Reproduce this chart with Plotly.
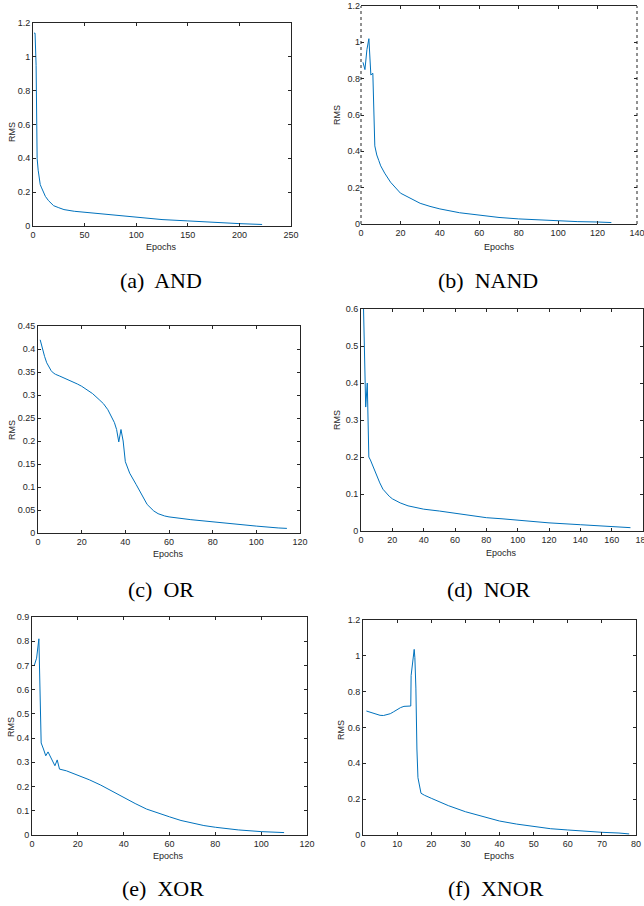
import plotly.graph_objects as go

# ---------------- data ----------------
and_epochs = [1, 2, 3, 4, 5, 6, 7, 8, 10, 12, 15, 18, 20, 25, 30, 40, 50, 60, 75, 100, 125, 150, 175, 200, 222]
and_rms = [1.14, 1.14, 0.95, 0.40, 0.33, 0.27, 0.245, 0.23, 0.20, 0.175, 0.15, 0.13, 0.12, 0.108, 0.097, 0.087,
           0.081, 0.074, 0.064, 0.050, 0.038, 0.030, 0.020, 0.014, 0.009]

nand_epochs = [1, 2, 3, 4, 5, 6, 7, 8, 9, 10, 12, 15, 20, 25, 30, 35, 40, 50, 60, 70, 80, 90, 100, 110, 120, 127]
nand_rms = [0.89, 0.85, 0.96, 1.02, 0.82, 0.83, 0.43, 0.38, 0.35, 0.32, 0.28, 0.23, 0.17, 0.14, 0.114, 0.097,
            0.083, 0.062, 0.048, 0.036, 0.028, 0.022, 0.018, 0.013, 0.011, 0.008]

or_epochs = [1, 2, 3, 4, 5, 6, 7, 8, 10, 12, 15, 18, 20, 22, 25, 28, 30, 32, 34, 35, 36, 37, 38, 39, 40, 41, 42,
             45, 48, 50, 53, 55, 58, 60, 70, 80, 90, 100, 110, 114]
or_rms = [0.42, 0.40, 0.384, 0.37, 0.36, 0.353, 0.348, 0.345, 0.341, 0.337, 0.331, 0.324, 0.319, 0.313, 0.303,
          0.29, 0.281, 0.268, 0.25, 0.24, 0.225, 0.198, 0.225, 0.20, 0.155, 0.14, 0.13, 0.105, 0.078, 0.062,
          0.048, 0.042, 0.037, 0.035, 0.029, 0.024, 0.0195, 0.015, 0.011, 0.010]

nor_epochs = [1, 2, 3, 4, 5, 6, 8, 10, 12, 14, 16, 18, 20, 25, 30, 40, 50, 60, 70, 80, 90, 100, 120, 140, 160, 172]
nor_rms = [0.72, 0.50, 0.335, 0.40, 0.20, 0.192, 0.17, 0.15, 0.13, 0.113, 0.103, 0.094, 0.087, 0.076, 0.068,
           0.059, 0.054, 0.048, 0.042, 0.036, 0.033, 0.029, 0.022, 0.017, 0.0125, 0.009]

xor_epochs = [1, 2, 3, 4, 5, 6, 7, 8, 9, 10, 11, 12, 15, 20, 25, 30, 35, 40, 45, 50, 55, 60, 65, 70, 75, 80, 90,
              100, 110]
xor_rms = [0.70, 0.73, 0.81, 0.38, 0.355, 0.327, 0.343, 0.323, 0.31, 0.286, 0.31, 0.272, 0.265, 0.247, 0.228,
           0.206, 0.18, 0.154, 0.13, 0.107, 0.09, 0.075, 0.06, 0.048, 0.039, 0.032, 0.021, 0.014, 0.010]

xnor_epochs = [1, 2, 3, 4, 5, 6, 7, 8, 9, 10, 11, 12, 13, 14, 14.1, 14.6, 15, 15.2, 15.5, 15.8, 16.1, 17, 18, 20,
               25, 30, 35, 40, 45, 50, 55, 60, 65, 70, 75, 78]
xnor_rms = [0.692, 0.686, 0.679, 0.673, 0.668, 0.667, 0.670, 0.677, 0.688, 0.700, 0.711, 0.718, 0.720, 0.720,
            0.89, 0.98, 1.036, 0.99, 0.82, 0.48, 0.32, 0.233, 0.222, 0.205, 0.164, 0.130, 0.102, 0.078, 0.061,
            0.047, 0.035, 0.028, 0.020, 0.015, 0.011, 0.006]

captions = ["(a)  AND", "(b)  NAND", "(c)  OR", "(d)  NOR", "(e)  XOR", "(f)  XNOR"]
x_label = "Epochs"
y_label = "RMS"

x_ranges = [[0, 250], [0, 140], [0, 120], [0, 180], [0, 120], [0, 80]]
x_dticks = [50, 20, 20, 20, 20, 10]
y_ranges = [[0, 1.2], [0, 1.2], [0, 0.45], [0, 0.6], [0, 0.9], [0, 1.2]]
y_dticks = [0.2, 0.2, 0.05, 0.1, 0.1, 0.2]

series = [(and_epochs, and_rms), (nand_epochs, nand_rms), (or_epochs, or_rms),
          (nor_epochs, nor_rms), (xor_epochs, xor_rms), (xnor_epochs, xnor_rms)]

# ---------------- layout (pixel boxes) ----------------
W, H = 644, 906
boxes = [(33, 291, 23, 226), (361, 637, 6, 224), (38, 300, 326, 533),
         (361, 643, 309, 531), (32, 307, 617, 835), (363, 636, 620, 835)]
xtitle_pos = [(161, 247), (499, 247), (168, 554), (501, 553), (168, 856), (499, 856)]
ytitle_pos = [(12, 132), (337, 115), (12, 430), (337, 420), (11, 727), (341, 730)]
caption_pos = [(161, 280), (488, 280), (161, 589), (488, 589), (163, 888), (496, 888)]

LINE = "#0072bd"
AXC = "#262626"
tickfont = dict(family="Liberation Sans, Arial, sans-serif", size=9, color=AXC)

fig = go.Figure()
layout = dict(width=W, height=H, margin=dict(l=0, r=0, t=0, b=0, pad=0, autoexpand=False),
              paper_bgcolor="white", plot_bgcolor="white", showlegend=False)
annotations = []
shapes = []

for i, ((xs, ys), (l, r, t, b)) in enumerate(zip(series, boxes)):
    n = i + 1
    xa = "x" if n == 1 else f"x{n}"
    ya = "y" if n == 1 else f"y{n}"
    fig.add_trace(go.Scatter(x=xs, y=ys, mode="lines", line=dict(color=LINE, width=1),
                             xaxis=xa, yaxis=ya, hoverinfo="skip", cliponaxis=True))
    dotted = (n == 2)
    common = dict(showgrid=False, zeroline=False, ticks="inside", ticklen=3, tickwidth=0.8,
                  tickcolor=AXC, linecolor=AXC, linewidth=0.8, ticklabeloverflow="allow",
                  mirror="ticks", tickfont=tickfont, fixedrange=True, automargin=False)
    layout[f"xaxis{'' if n == 1 else n}"] = dict(
        domain=[l / W, r / W], anchor=ya, range=x_ranges[i], tick0=0, dtick=x_dticks[i],
        showline=True, **common)
    layout[f"yaxis{'' if n == 1 else n}"] = dict(
        domain=[1 - b / H, 1 - t / H], anchor=xa, range=y_ranges[i], tick0=0, dtick=y_dticks[i],
        showline=not dotted, **common)
    if dotted:
        for xv in (0, 1):
            shapes.append(dict(type="line", xref=f"{xa} domain", yref=f"{ya} domain", x0=xv, x1=xv,
                               y0=0, y1=1, line=dict(color="#222222", width=1, dash="dot"),
                               layer="above"))
    px, py = xtitle_pos[i]
    annotations.append(dict(text=x_label, x=px / W, y=1 - py / H, xref="paper", yref="paper",
                            showarrow=False, xanchor="center", yanchor="middle",
                            font=dict(family="Liberation Sans, Arial, sans-serif", size=9, color=AXC)))
    px, py = ytitle_pos[i]
    annotations.append(dict(text=y_label, x=px / W, y=1 - py / H, xref="paper", yref="paper",
                            showarrow=False, xanchor="center", yanchor="middle", textangle=-90,
                            font=dict(family="Liberation Sans, Arial, sans-serif", size=9, color=AXC)))
    px, py = caption_pos[i]
    annotations.append(dict(text=captions[i].replace("  ", "&nbsp; "), x=px / W, y=1 - py / H,
                            xref="paper", yref="paper", showarrow=False, xanchor="center",
                            yanchor="middle",
                            font=dict(family="Liberation Serif, Times New Roman, serif", size=22,
                                      color="black")))

layout["annotations"] = annotations
layout["shapes"] = shapes
fig.update_layout(**layout)
fig.write_html("out.html", config={"displayModeBar": False},
               post_script="document.body.style.margin='0';document.body.style.overflow='hidden';")
